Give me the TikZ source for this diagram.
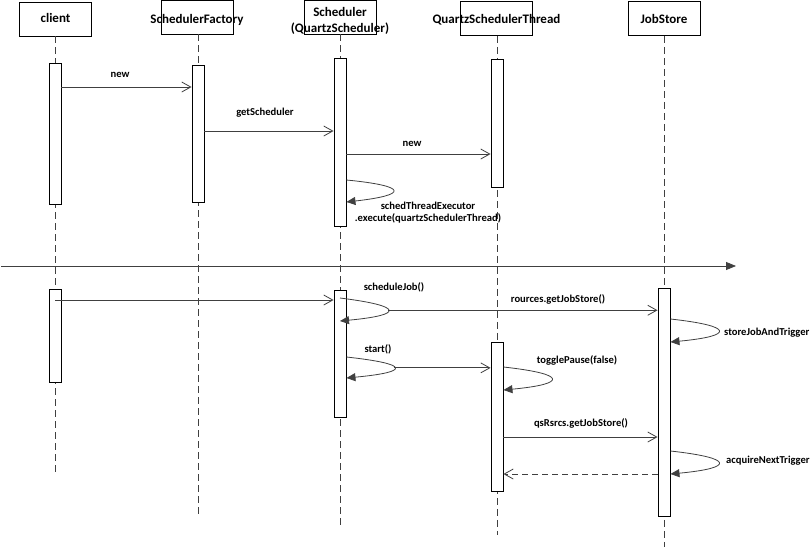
\documentclass[tikz,border=0pt]{standalone}
\usepackage{fontspec}
\setmainfont{Carlito}
\usetikzlibrary{arrows.meta}
\definecolor{linegray}{HTML}{404040}
\tikzset{
	head/.style={draw=black, line width=0.8pt, minimum width=72pt, minimum height=34pt, inner sep=0pt},
	headtext/.style={font=\bfseries\fontsize{13}{16}\selectfont, align=center, inner sep=0pt},
	lifeline/.style={draw=linegray, line width=0.8pt, dash pattern=on 7pt off 4pt},
	bar/.style={draw=black, fill=white, line width=0.9pt, minimum width=12pt, inner sep=0pt},
	msg/.style={draw=linegray, line width=0.8pt, -{Straight Barb[length=9pt,width=10pt]}},
	retmsg/.style={msg, dash pattern=on 6pt off 4pt},
	selfmsg/.style={draw=linegray, line width=0.8pt, -{Triangle[length=9pt,width=8pt]}},
	lbl/.style={font=\bfseries\fontsize{10.6}{12}\selectfont, inner sep=0pt},
}
\begin{document}
\begin{tikzpicture}[x=1pt,y=-1pt]
		\useasboundingbox (0,0) rectangle (812,547);
		
		%Objects
		\node[head] (client) at (55.5,19) {};
		\node[headtext] (tclient) at ([yshift=1pt]client.center) {client};
		\node[head] (factory) at (197,17) {};
		\node[headtext] (tfactory) at ([yshift=-3pt]factory.center) {SchedulerFactory};
		\node[head] (sched) at (340,17) {};
		\node[headtext] (tsched) at ([yshift=-3.5pt]sched.center) {Scheduler\\(QuartzScheduler)};
		\node[head] (thread) at (496.5,18.5) {};
		\node[headtext] (tthread) at ([yshift=-1.5pt]thread.center) {QuartzSchedulerThread};
		\node[head] (store) at (664,18.5) {};
		\node[headtext] (tstore) at (store.center) {JobStore};
		
		%Lifelines
		\draw[lifeline] (client.south) -- (client.south |- 0,475);
		\draw[lifeline] ([xshift=1pt]factory.south) -- ([xshift=1pt]factory.south |- 0,517);
		\draw[lifeline] (sched.south) -- (sched.south |- 0,527);
		\draw[lifeline] ([xshift=0.5pt]thread.south) -- ([xshift=0.5pt]thread.south |- 0,535);
		\draw[lifeline] (store.south) -- (store.south |- 0,547);
		
		%Separator
		\coordinate (sepL) at (1,266);
		\coordinate (sepR) at (736,266);
		\draw[draw=linegray, line width=0.8pt, -{Triangle[length=10pt,width=8pt]}] (sepL) -- (sepR);
		
		%Activations
		\node[bar, minimum height=141pt] (cl1) at (55,133.5) {};
		\node[bar, minimum height=137pt] (sf1) at (198,133.5) {};
		\node[bar, minimum height=168pt] (sc1) at (340,142) {};
		\node[bar, minimum height=128pt] (qt1) at (497,123) {};
		\node[bar, minimum height=93pt] (cl2) at (55,335.5) {};
		\node[bar, minimum height=127pt] (sc2) at (340,353.5) {};
		\node[bar, minimum height=149pt] (qt2) at (497,416.5) {};
		\node[bar, minimum height=228pt] (js1) at (664,402) {};
		
		%Creation
		\draw[msg] (cl1.east |- 0,87) -- (sf1.west |- 0,87);
		\node[lbl] (lnew1) at (120,75) {new};
		\draw[msg] (sf1.east |- 0,131) -- (sc1.west |- 0,131);
		\node[lbl] (lget) at (265,113) {getScheduler};
		\draw[msg] (sc1.east |- 0,154) -- (qt1.west |- 0,154);
		\node[lbl] (lnew2) at (412,144) {new};
		\draw[selfmsg] (sc1.east |- 0,180) .. controls +(62,6) and +(62,-7) .. (sc1.east |- 0,202);
		\node[lbl, align=center] (lexec) at (428,213) {schedThreadExecutor\\.execute(quartzSchedulerThread)};
		
		%Scheduling
		\draw[msg] (cl2.center |- 0,300) -- (sc2.west |- 0,300);
		\draw[selfmsg] (sc2.center |- 0,298) .. controls +(64,8) and +(64,-6) .. coordinate[pos=0.5] (sjtip) (sc2.center |- 0,321);
		\node[lbl] (lsched) at (394,287) {scheduleJob()};
		\draw[msg] (sjtip) -- (js1.west |- sjtip);
		\node[lbl] (lrsrc) at (558,299) {rources.getJobStore()};
		\draw[selfmsg] (js1.east |- 0,319) .. controls +(64,7) and +(64,-6) .. (js1.east |- 0,342);
		\node[lbl, anchor=west] (lstore) at (724,333) {storeJobAndTrigger};
		
		%Start
		\draw[selfmsg] (sc2.east |- 0,357) .. controls +(64,7) and +(64,-6) .. coordinate[pos=0.5] (sttip) (sc2.east |- 0,378);
		\node[lbl] (lstart) at (378,349) {start()};
		\draw[msg] (sttip) -- (qt2.west |- sttip);
		\draw[selfmsg] (qt2.east |- 0,367) .. controls +(64,7) and +(64,-6) .. (qt2.east |- 0,390);
		\node[lbl] (lpause) at (577,360) {togglePause(false)};
		\draw[msg] (qt2.east |- 0,437) -- (js1.west |- 0,437);
		\node[lbl] (lqs) at (581,423) {qsRsrcs.getJobStore()};
		\draw[selfmsg] (js1.east |- 0,451) .. controls +(64,7) and +(64,-6) .. (js1.east |- 0,474);
		\node[lbl, anchor=west] (lacq) at (726,461) {acquireNextTrigger};
		\draw[retmsg] (js1.west |- 0,474) -- (qt2.east |- 0,474);
		
\end{tikzpicture}
\end{document}
